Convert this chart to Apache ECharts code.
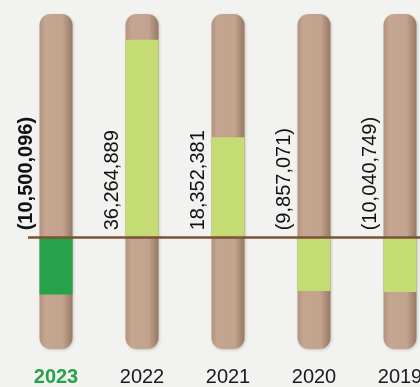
<!DOCTYPE html>
<html>
<head>
<meta charset="utf-8">
<title>Net result by year</title>
<script src="https://cdn.jsdelivr.net/npm/echarts@6/dist/echarts.min.js"></script>
<style>
  html, body { margin: 0; padding: 0; background: #f2f2f0; }
  #chart { width: 420px; height: 387px; }
</style>
</head>
<body>
<div id="chart"></div>
<script>
// Yearly results, most recent year first
var years = ['2023', '2022', '2021', '2020', '2019'];
var results = [-10500096, 36264889, 18352381, -9857071, -10040749];
var valueLabels = ['(10,500,096)', '36,264,889', '18,352,381', '(9,857,071)', '(10,040,749)'];

var CURRENT = '#27a24a';
var PAST = '#c5dc74';

var chart = echarts.init(document.getElementById('chart'), null, { renderer: 'canvas' });

var tubeFill = new echarts.graphic.LinearGradient(0, 0, 1, 0, [
  { offset: 0, color: '#b3937d' },
  { offset: 0.18, color: '#c4a590' },
  { offset: 0.7, color: '#c2a38d' },
  { offset: 1, color: '#977862' }
]);

chart.setOption({
  backgroundColor: '#f2f2f0',
  animation: false,
  // the last tube runs past the right edge, so the grid is wider than the canvas
  grid: { left: 13, width: 430, top: 14, height: 335, containLabel: false, outerBoundsMode: 'none' },
  xAxis: {
    type: 'category',
    data: years,
    axisLine: { show: false, onZero: false },
    axisTick: { show: false },
    axisLabel: {
      interval: 0,
      hideOverlap: false,
      margin: 18,
      fontFamily: 'Liberation Sans, Arial, sans-serif',
      fontSize: 20,
      color: '#1a1a1a',
      formatter: function (v, i) {
        return i === 0 ? '{cur|' + v + '}' : v;
      },
      rich: {
        cur: {
          fontFamily: 'Liberation Sans, Arial, sans-serif',
          fontSize: 20,
          fontWeight: 'bold',
          color: CURRENT
        }
      }
    }
  },
  yAxis: {
    type: 'value',
    min: -20500000,
    max: 41000000,
    show: false,
    splitLine: { show: false }
  },
  series: [
    {
      type: 'bar',
      barWidth: 33,
      data: results.map(function (v, i) {
        return { value: v, itemStyle: { color: i === 0 ? CURRENT : PAST } };
      }),
      showBackground: true,
      backgroundStyle: {
        color: tubeFill,
        borderRadius: 11,
        shadowColor: 'rgba(0,0,0,0.18)',
        shadowBlur: 3,
        shadowOffsetX: 1,
        shadowOffsetY: 1
      },
      markLine: {
        silent: true,
        symbol: 'none',
        label: { show: false },
        lineStyle: { color: '#7b5234', width: 2.5, type: 'solid' },
        z: 10,
        data: [[{ x: 28, yAxis: 0 }, { x: 420, yAxis: 0 }]]
      }
    },
    {
      // vertical value labels sitting just above the zero line, left of each tube
      type: 'custom',
      silent: true,
      z: 5,
      data: results.map(function (v, i) { return [i, 0]; }),
      renderItem: function (params, api) {
        var i = api.value(0);
        var p = api.coord([i, api.value(1)]);
        return {
          type: 'text',
          x: p[0] - 30,
          y: p[1] - 7,
          rotation: Math.PI / 2,
          style: {
            text: valueLabels[i],
            fontFamily: 'Liberation Sans, Arial, sans-serif',
            fontSize: 20,
            fontWeight: i === 0 ? 'bold' : 'normal',
            fill: '#111111',
            align: 'left',
            verticalAlign: 'middle'
          }
        };
      }
    }
  ]
});
</script>
</body>
</html>
